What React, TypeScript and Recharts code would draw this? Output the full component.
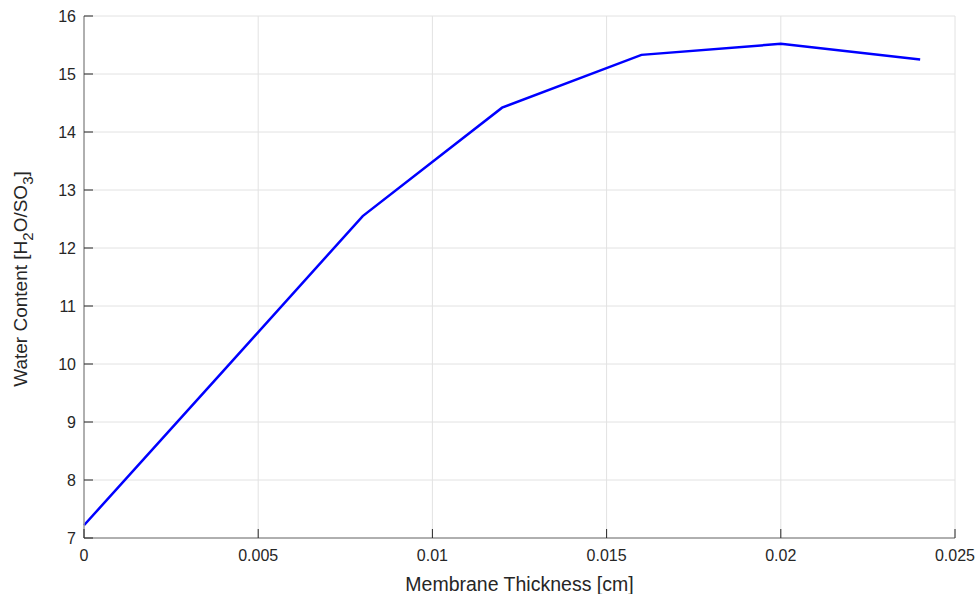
import React from 'react';
import { LineChart, Line, XAxis, YAxis, CartesianGrid, Label } from 'recharts';

const thickness = [0, 0.004, 0.008, 0.012, 0.016, 0.02, 0.024];
const waterContent = [7.22, 9.88, 12.55, 14.42, 15.33, 15.52, 15.25];
const xTicks = [0, 0.005, 0.01, 0.015, 0.02, 0.025];
const xTickLabels = ['0', '0.005', '0.01', '0.015', '0.02', '0.025'];
const yTicks = [7, 8, 9, 10, 11, 12, 13, 14, 15, 16];

const data = thickness.map((t, i) => ({ t, w: waterContent[i] }));

const FONT = '"Liberation Sans", Arial, Helvetica, sans-serif';
const TXT = '#262626';
const TICK_LEN = 9;

const BottomTick = (props: any) => {
  const { x, y, payload } = props;
  const i = xTicks.indexOf(payload.value);
  return (
    <g>
      <line x1={x} x2={x} y1={y - 12} y2={y - 12 - TICK_LEN} stroke={TXT} strokeWidth={1} />
      <text x={x} y={y} dy="0.71em" textAnchor="middle" fill={TXT} fontSize={16} fontFamily={FONT}>
        {i >= 0 ? xTickLabels[i] : payload.value}
      </text>
    </g>
  );
};

const TopTick = (props: any) => {
  const { x, y } = props;
  return <line x1={x} x2={x} y1={y} y2={y + TICK_LEN} stroke={TXT} strokeWidth={1} />;
};

const LeftTick = (props: any) => {
  const { x, y, payload } = props;
  return (
    <g>
      <line x1={x + 8} x2={x + 8 + TICK_LEN} y1={y} y2={y} stroke={TXT} strokeWidth={1} />
      <text x={x} y={y} dy="0.355em" textAnchor="end" fill={TXT} fontSize={16} fontFamily={FONT}>
        {payload.value}
      </text>
    </g>
  );
};

const RightTick = (props: any) => {
  const { x, y } = props;
  return <line x1={x - TICK_LEN} x2={x} y1={y} y2={y} stroke={TXT} strokeWidth={1} />;
};

const YLabel = (props: any) => {
  const vb = props.viewBox;
  const cx = vb.x + 27;
  const cy = vb.y + vb.height / 2 + 2;
  return (
    <text
      x={cx}
      y={cy}
      transform={`rotate(-90 ${cx} ${cy})`}
      textAnchor="middle"
      fill={TXT}
      fontSize={19}
      fontFamily={FONT}
    >
      Water Content [H
      <tspan dy={6} fontSize={15}>2</tspan>
      <tspan dy={-6}>O/SO</tspan>
      <tspan dy={6} fontSize={15}>3</tspan>
      <tspan dy={-6}>]</tspan>
    </text>
  );
};

const XLabel = (props: any) => {
  const vb = props.viewBox;
  return (
    <text
      x={vb.x + vb.width / 2}
      y={vb.y + 53}
      textAnchor="middle"
      fill={TXT}
      fontSize={19.5}
      fontFamily={FONT}
    >
      Membrane Thickness [cm]
    </text>
  );
};

export default function App() {
  return (
    <div style={{ position: 'absolute', left: 0, top: 0, width: 976, height: 594, background: '#fff' }}>
      <LineChart width={976} height={594} data={data} margin={{ top: 16, right: 21, bottom: 0, left: 0 }}>
        <CartesianGrid stroke="#e2e2e2" strokeWidth={1} />
        <XAxis
          dataKey="t"
          type="number"
          domain={[0, 0.025]}
          ticks={xTicks}
          height={56}
          tickSize={0}
          tickMargin={12}
          tick={<BottomTick />}
          axisLine={{ stroke: '#9a9a9a', strokeWidth: 1.5 }}
          tickLine={false}
          interval={0}
        >
          <Label content={<XLabel />} />
        </XAxis>
        <XAxis
          xAxisId="top"
          orientation="top"
          dataKey="t"
          type="number"
          domain={[0, 0.025]}
          ticks={xTicks}
          height={0}
          tickSize={0}
          tickMargin={0}
          tick={<TopTick />}
          axisLine={{ stroke: '#444', strokeWidth: 1 }}
          tickLine={false}
          interval={0}
        />
        <YAxis
          type="number"
          domain={[7, 16]}
          ticks={yTicks}
          width={84}
          tickSize={0}
          tickMargin={8}
          tick={<LeftTick />}
          axisLine={{ stroke: '#9a9a9a', strokeWidth: 1.5 }}
          tickLine={false}
          interval={0}
        >
          <Label content={<YLabel />} />
        </YAxis>
        <YAxis
          yAxisId="right"
          orientation="right"
          type="number"
          domain={[7, 16]}
          ticks={yTicks}
          width={0}
          tickSize={0}
          tickMargin={0}
          tick={<RightTick />}
          axisLine={{ stroke: '#444', strokeWidth: 1 }}
          tickLine={false}
          interval={0}
        />
        <Line
          type="linear"
          dataKey="w"
          stroke="#0000ff"
          strokeWidth={2.5}
          dot={false}
          isAnimationActive={false}
        />
      </LineChart>
    </div>
  );
}
